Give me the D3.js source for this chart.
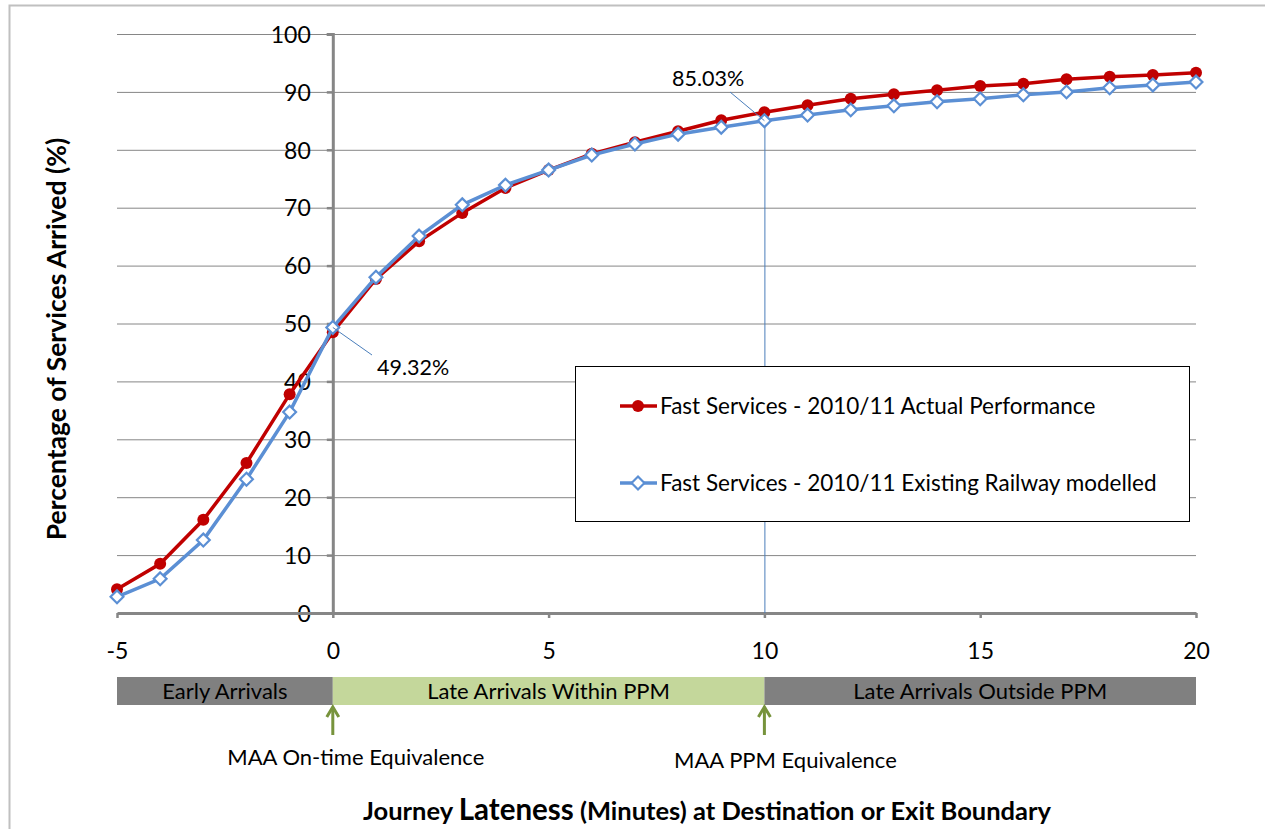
<!DOCTYPE html>
<html>
<head>
<meta charset="utf-8">
<script src="https://cdn.jsdelivr.net/npm/d3@7"></script>
<style>
  body { margin: 0; background: #fff; }
  text { font-family: Lato, "Open Sans", sans-serif; fill: #000; }
</style>
</head>
<body>
<div class="CHART"></div>
<script>
// minutes of lateness and the two cumulative curves (%)
var minutes = [-5, -4, -3, -2, -1, 0, 1, 2, 3, 4, 5, 6, 7, 8, 9, 10, 11, 12, 13, 14, 15, 16, 17, 18, 19, 20];
var actual = [4.1, 8.5, 16.1, 25.9, 37.8, 48.5, 57.7, 64.2, 69.1, 73.4, 76.5, 79.3, 81.3, 83.2, 85.1, 86.5,
              87.7, 88.8, 89.6, 90.3, 91.0, 91.4, 92.2, 92.6, 92.9, 93.3];
var modelled = [2.8, 5.9, 12.6, 23.1, 34.7, 49.32, 58.0, 65.1, 70.5, 73.9, 76.5, 79.1, 81.0, 82.7, 83.9, 85.03,
                86.0, 86.9, 87.6, 88.3, 88.8, 89.5, 90.0, 90.7, 91.2, 91.7];
var seriesNames = ["Fast Services - 2010/11 Actual Performance", "Fast Services - 2010/11 Existing Railway modelled"];
var yTicks = [0, 10, 20, 30, 40, 50, 60, 70, 80, 90, 100];
var xTicks = [-5, 0, 5, 10, 15, 20];
var bands = [
  {from: -5, to: 0, label: "Early Arrivals", color: "#808080"},
  {from: 0, to: 10, label: "Late Arrivals Within PPM", color: "#c4d79b"},
  {from: 10, to: 20, label: "Late Arrivals Outside PPM", color: "#808080"}
];
var markers = [{at: 0, label: "MAA On-time Equivalence"}, {at: 10, label: "MAA PPM Equivalence"}];

var width = 1265, height = 829;
var svg = d3.select(".CHART").append("svg")
    .attr("width", width)
    .attr("height", height);

// outer chart border
svg.append("rect")
    .attr("x", 9.5).attr("y", 5.5)
    .attr("width", 1300).attr("height", 900)
    .attr("fill", "none").attr("stroke", "#c0c0c0").attr("stroke-width", 2);

var x = d3.scaleLinear().domain([-5, 20]).range([117, 1196]);
var y = d3.scaleLinear().domain([0, 100]).range([613, 34]);

// gridlines
svg.append("g").selectAll("line").data(yTicks.filter(function(d){ return d > 0; }))
  .enter().append("line")
    .attr("x1", x(-5)).attr("x2", x(20))
    .attr("y1", function(d){ return y(d) + 0.5; }).attr("y2", function(d){ return y(d) + 0.5; })
    .attr("stroke", "#868686").attr("stroke-width", 1);

// y axis at x = 0
var yAxis = svg.append("g")
    .attr("transform", "translate(" + x(0) + ",0)")
    .call(d3.axisLeft(y).tickValues(yTicks).tickSize(6).tickPadding(16));
yAxis.select(".domain").attr("stroke", "#868686").attr("stroke-width", 3);
yAxis.selectAll(".tick line").attr("stroke", "#868686").attr("stroke-width", 2.5);
yAxis.selectAll(".tick text").style("font-size", "23px").attr("dy", "0.36em");

// x axis at y = 0
var xAxis = svg.append("g")
    .attr("transform", "translate(0," + y(0) + ")")
    .call(d3.axisBottom(x).tickValues(xTicks).tickSize(5).tickPadding(0).tickSizeOuter(0)
      .tickFormat(function(d){ return String(d); }));
xAxis.select(".domain").attr("stroke", "#868686").attr("stroke-width", 3);
xAxis.selectAll(".tick line").attr("stroke", "#868686").attr("stroke-width", 2.5);
xAxis.selectAll(".tick text").style("font-size", "23px").attr("y", 0).attr("dy", "46px");

// vertical reference line at 10 minutes
svg.append("line")
    .attr("x1", x(10) + 0.5).attr("x2", x(10) + 0.5)
    .attr("y1", y(modelled[minutes.indexOf(10)])).attr("y2", y(0))
    .attr("stroke", "#4a7ebb").attr("stroke-width", 1);

var line = d3.line()
    .x(function(d, i){ return x(minutes[i]); })
    .y(function(d){ return y(d); });

// red series
svg.append("path").datum(actual)
    .attr("d", line).attr("fill", "none")
    .attr("stroke", "#c00000").attr("stroke-width", 3.5);
svg.append("g").selectAll("circle").data(actual).enter().append("circle")
    .attr("cx", function(d, i){ return x(minutes[i]); })
    .attr("cy", function(d){ return y(d); })
    .attr("r", 6).attr("fill", "#c00000");

// blue series
svg.append("path").datum(modelled)
    .attr("d", line).attr("fill", "none")
    .attr("stroke", "#5b8fd4").attr("stroke-width", 3.5);
var diamond = d3.symbol().type(d3.symbolDiamond2).size(105);
svg.append("g").selectAll("path").data(modelled).enter().append("path")
    .attr("d", diamond)
    .attr("transform", function(d, i){ return "translate(" + x(minutes[i]) + "," + y(d) + ")"; })
    .attr("fill", "#fff").attr("stroke", "#5b8fd4").attr("stroke-width", 2.2);

// data labels with leader lines
var labels = [
  {at: 0, tx: 377, ty: 375, lx: 372, ly: 355},
  {at: 10, tx: 672, ty: 86, lx: 730, ly: 92}
];
labels.forEach(function(l){
  var v = modelled[minutes.indexOf(l.at)];
  svg.append("line")
      .attr("x1", x(l.at)).attr("y1", y(v))
      .attr("x2", l.lx).attr("y2", l.ly)
      .attr("stroke", "#4a7ebb").attr("stroke-width", 1);
  svg.append("text").attr("x", l.tx).attr("y", l.ty)
      .style("font-size", "21.5px").text(v.toFixed(2) + "%");
});

// legend
var lg = svg.append("g").attr("transform", "translate(575,366)");
lg.append("rect").attr("x", 0.5).attr("y", 0.5).attr("width", 614).attr("height", 155)
    .attr("fill", "#fff").attr("stroke", "#000").attr("stroke-width", 1);
var colors = ["#c00000", "#5b8fd4"];
seriesNames.forEach(function(name, i){
  var ly = 40 + i * 77;
  lg.append("line").attr("x1", 45).attr("x2", 82).attr("y1", ly).attr("y2", ly)
      .attr("stroke", colors[i]).attr("stroke-width", 3.5);
  if (i === 0) {
    lg.append("circle").attr("cx", 63).attr("cy", ly).attr("r", 6).attr("fill", colors[i]);
  } else {
    lg.append("path").attr("d", diamond).attr("transform", "translate(63," + ly + ")")
        .attr("fill", "#fff").attr("stroke", colors[i]).attr("stroke-width", 2.2);
  }
  lg.append("text").attr("x", 85).attr("y", ly).attr("dy", "0.35em")
      .style("font-size", "22.5px").text(name);
});

// y axis title
svg.append("text")
    .attr("transform", "translate(66,339) rotate(-90)")
    .attr("text-anchor", "middle")
    .style("font-size", "26.5px").style("font-weight", "bold")
    .text("Percentage of Services Arrived (%)");

// lateness bands
var bandTop = 677, bandH = 28;
var bg = svg.append("g");
bg.selectAll("rect").data(bands).enter().append("rect")
    .attr("x", function(d){ return x(d.from); })
    .attr("y", bandTop)
    .attr("width", function(d){ return x(d.to) - x(d.from); })
    .attr("height", bandH)
    .attr("fill", function(d){ return d.color; });
bg.selectAll("text").data(bands).enter().append("text")
    .attr("x", function(d){ return (x(d.from) + x(d.to)) / 2; })
    .attr("y", bandTop + bandH / 2).attr("dy", "0.36em")
    .attr("text-anchor", "middle")
    .style("font-size", "22px")
    .text(function(d){ return d.label; });

// equivalence arrows
markers.forEach(function(m, i){
  var ax = x(m.at);
  svg.append("line").attr("x1", ax).attr("x2", ax).attr("y1", 708).attr("y2", 735)
      .attr("stroke", "#77933c").attr("stroke-width", 3);
  svg.append("path")
      .attr("d", "M" + (ax - 6) + ",717 L" + ax + ",707 L" + (ax + 6) + ",717")
      .attr("fill", "none").attr("stroke", "#77933c").attr("stroke-width", 3);
  svg.append("text").attr("x", ax + (i === 0 ? 23 : 21)).attr("y", 757 + i * 3)
      .attr("dy", "0.35em").attr("text-anchor", "middle")
      .style("font-size", "22px").text(m.label);
});

// x axis title
var xt = svg.append("text").attr("x", 707).attr("y", 820)
    .attr("text-anchor", "middle").style("font-weight", "bold").style("font-size", "25.5px");
xt.append("tspan").text("Journey ");
xt.append("tspan").style("font-size", "29.5px").text("Lateness");
xt.append("tspan").text(" (Minutes)  at Destination  or Exit Boundary");
</script>
</body>
</html>
